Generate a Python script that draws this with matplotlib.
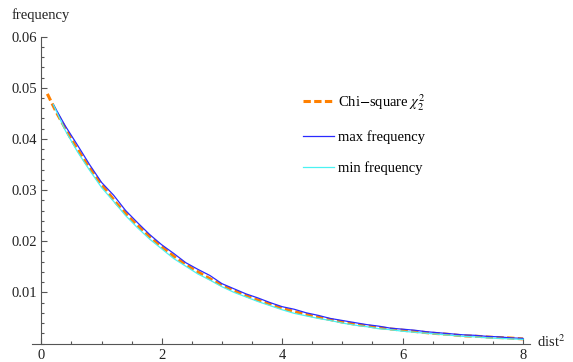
import matplotlib
matplotlib.use("Agg")
import matplotlib.pyplot as plt
import numpy as np
from matplotlib.ticker import MultipleLocator, FixedLocator

plt.rcParams["font.family"] = ["Liberation Serif", "DejaVu Serif"]
plt.rcParams["mathtext.fontset"] = "stix"

# chi-square reference curve
chi_x = [0.1, 0.25, 0.5, 0.75, 1.0, 1.25, 1.5, 1.75, 2.0, 2.25, 2.5, 2.75,
         3.0, 3.25, 3.5, 3.75, 4.0, 4.25, 4.5, 4.75, 5.0, 5.25, 5.5, 5.75,
         6.0, 6.25, 6.5, 6.75, 7.0, 7.25, 7.5, 7.75, 8.0]
chi_y = [0.0488, 0.0452, 0.0399, 0.0352, 0.0311, 0.0274, 0.0242, 0.0214,
         0.0189, 0.0166, 0.0147, 0.0130, 0.0114, 0.0101, 0.0089, 0.0079,
         0.0069, 0.0061, 0.0054, 0.0048, 0.0042, 0.0037, 0.0033, 0.0029,
         0.0026, 0.0023, 0.0020, 0.0018, 0.0015, 0.0014, 0.0012, 0.0011,
         0.0009]

# empirical frequencies
freq_x = [0.2, 0.4, 0.6, 0.8, 1.0, 1.2, 1.4, 1.6, 1.8, 2.0, 2.2, 2.4, 2.6,
          2.8, 3.0, 3.2, 3.4, 3.6, 3.8, 4.0, 4.2, 4.4, 4.6, 4.8, 5.0, 5.2,
          5.4, 5.6, 5.8, 6.0, 6.2, 6.4, 6.6, 6.8, 7.0, 7.2, 7.4, 7.6, 7.8,
          8.0]
max_freq = [0.0467, 0.0425, 0.0388, 0.0350, 0.0315, 0.0290, 0.0260, 0.0236,
            0.0213, 0.0193, 0.0176, 0.0158, 0.0145, 0.0133, 0.0117, 0.0107,
            0.0097, 0.0089, 0.0080, 0.0072, 0.0067, 0.0060, 0.0055, 0.0049,
            0.0045, 0.0041, 0.0037, 0.0034, 0.0030, 0.0028, 0.0026, 0.0023,
            0.0021, 0.0019, 0.0017, 0.0016, 0.0014, 0.0013, 0.0011, 0.0010]
min_freq = [0.0467, 0.0416, 0.0375, 0.0339, 0.0305, 0.0278, 0.0250, 0.0226,
            0.0204, 0.0185, 0.0166, 0.0151, 0.0136, 0.0124, 0.0111, 0.0100,
            0.0091, 0.0082, 0.0074, 0.0066, 0.0059, 0.0054, 0.0049, 0.0045,
            0.0040, 0.0036, 0.0033, 0.0029, 0.0027, 0.0024, 0.0022, 0.0020,
            0.0018, 0.0016, 0.0014, 0.0013, 0.0011, 0.0010, 0.0009, 0.0008]

FS = 10.5

fig = plt.figure(figsize=(5.73, 3.62), dpi=100)
ax = fig.add_axes([32 / 573, 18.5 / 362, 498 / 573, 306.9 / 362])

ax.plot(chi_x, chi_y, color="#ff8000", lw=2.2, dashes=(2.4, 1.1),
        label="Chi$-$square $\\chi^2_2$")
ax.plot(freq_x, max_freq, color="#2a2aff", lw=0.9, label="max frequency")
ax.plot(freq_x, min_freq, color="#4af2f2", lw=0.9, label="min frequency")

ax.set_xlim(-0.155, 8.118)
ax.set_ylim(0, 0.06)

for s in ["top", "right"]:
    ax.spines[s].set_visible(False)
ax.spines["left"].set_position(("data", 0))
ax.spines["left"].set_bounds(0, 0.06)
for s in ["left", "bottom"]:
    ax.spines[s].set_color("#555555")
    ax.spines[s].set_linewidth(0.8)

ax.xaxis.set_major_locator(FixedLocator([0, 2, 4, 6, 8]))
ax.xaxis.set_minor_locator(MultipleLocator(0.5))
ax.yaxis.set_major_locator(FixedLocator([0.01, 0.02, 0.03, 0.04, 0.05, 0.06]))
ax.yaxis.set_minor_locator(MultipleLocator(0.002))
ax.set_xticklabels(["0", "2", "4", "6", "8"])
ax.set_yticklabels(["0.01", "0.02", "0.03", "0.04", "0.05", "0.06"])

ax.tick_params(which="both", direction="in", color="#555555", width=0.8,
               labelsize=FS, labelcolor="#222222")
ax.tick_params(which="major", length=4.5)
ax.tick_params(which="minor", length=2.5)
ax.tick_params(axis="x", pad=4)
ax.tick_params(axis="y", pad=3)

fig.text(12 / 573, 1 - 15 / 362, "frequency", fontsize=FS, color="#222222",
         va="center", ha="left")
fig.text(537 / 573, 1 - 342 / 362, "dist$^2$", fontsize=FS, color="#222222",
         va="center", ha="left")

ax.legend(loc="upper left", bbox_to_anchor=(303 / 573, 1 - 92 / 362),
          bbox_transform=fig.transFigure, frameon=False, fontsize=FS,
          handlelength=2.1, handletextpad=0.3, labelspacing=1.2,
          borderaxespad=0, borderpad=0)

fig.savefig("out.png", dpi=100)
